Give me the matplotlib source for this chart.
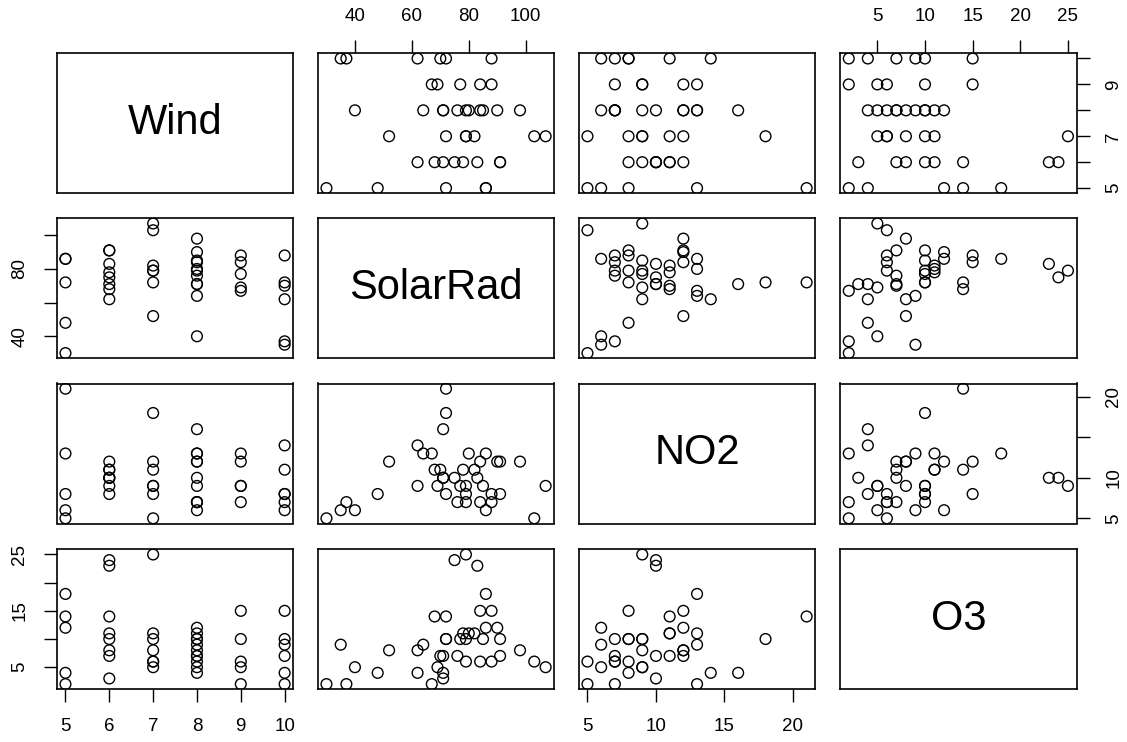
import matplotlib
matplotlib.use("Agg")
import matplotlib.pyplot as plt

plt.rcParams['font.family'] = ['Liberation Sans', 'DejaVu Sans']

# air pollution data (42 days)
wind = [8, 7, 7, 10, 6, 8, 9, 5, 7, 8, 6, 6, 7, 10, 10, 9, 8, 8, 9, 9, 10,
        9, 8, 5, 6, 8, 6, 8, 6, 10, 8, 7, 5, 6, 10, 8, 5, 5, 7, 7, 6, 8]
solar_rad = [98, 107, 103, 88, 91, 90, 84, 72, 82, 64, 71, 91, 72, 70, 72,
             77, 76, 71, 67, 69, 62, 88, 80, 30, 83, 84, 78, 79, 62, 37, 71,
             52, 48, 75, 35, 85, 86, 86, 79, 79, 68, 40]
no2 = [12, 9, 5, 8, 8, 12, 12, 21, 11, 13, 10, 12, 18, 11, 8, 9, 7, 16, 13,
       9, 14, 7, 13, 5, 10, 7, 11, 7, 9, 7, 10, 12, 8, 10, 6, 9, 6, 13, 9, 8,
       11, 6]
o3 = [8, 5, 6, 15, 10, 12, 15, 14, 11, 9, 3, 7, 10, 7, 10, 10, 7, 4, 2, 5, 4,
      6, 11, 2, 23, 6, 11, 10, 8, 2, 7, 8, 4, 24, 9, 10, 12, 18, 25, 6, 14, 5]

names = ["Wind", "SolarRad", "NO2", "O3"]
columns = [wind, solar_rad, no2, o3]
ticks = [[5, 6, 7, 8, 9, 10], [40, 60, 80, 100], [5, 10, 15, 20],
         [5, 10, 15, 20, 25]]
# labels shown on the horizontal axes (top / bottom)
x_labels = [["5", "6", "7", "8", "9", "10"], ["40", "60", "80", "100"],
            ["5", "10", "15", "20"], ["5", "10", "15", "20", "25"]]
# labels shown on the vertical axes (R drops overlapping ones)
y_labels = [["5", "", "7", "", "9", ""], ["40", "", "80", ""],
            ["5", "10", "", "20"], ["5", "", "15", "", "25"]]

W, H = 1127, 742
fig = plt.figure(figsize=(W / 100, H / 100), dpi=100)

col_left = [56.7, 317.7, 578.7, 840.0]
row_top = [53.3, 218.3, 383.5, 549.3]
pw, ph = 236.7, 140.0

n = len(columns)
for i in range(n):
    for j in range(n):
        ax = fig.add_axes([col_left[j] / W, 1 - (row_top[i] + ph) / H,
                           pw / W, ph / H])
        for s in ax.spines.values():
            s.set_linewidth(1.2)
        ax.tick_params(length=9.5, width=1.0, labelsize=13.5, pad=11,
                       top=False, bottom=False, left=False, right=False,
                       labeltop=False, labelbottom=False,
                       labelleft=False, labelright=False)
        if i == j:
            ax.set_xticks([])
            ax.set_yticks([])
            ax.text(0.5, 0.5, names[i], ha='center', va='center',
                    fontsize=30, transform=ax.transAxes)
            continue

        xmin, xmax = min(columns[j]), max(columns[j])
        ymin, ymax = min(columns[i]), max(columns[i])
        dx = (xmax - xmin) * 0.04
        dy = (ymax - ymin) * 0.04
        ax.scatter(columns[j], columns[i], s=60, facecolors='none',
                   edgecolors='black', linewidths=1.0)
        ax.set_xticks(ticks[j])
        ax.set_xticklabels(x_labels[j])
        ax.set_yticks(ticks[i])
        ax.set_yticklabels(y_labels[i], rotation=90, va='center')
        ax.set_xlim(xmin - dx, xmax + dx)
        ax.set_ylim(ymin - dy, ymax + dy)
        if i == 0 and j % 2 == 1:
            ax.tick_params(top=True, labeltop=True)
        if i == n - 1 and j % 2 == 0:
            ax.tick_params(bottom=True, labelbottom=True)
        if j == 0 and i % 2 == 1:
            ax.tick_params(left=True, labelleft=True)
        if j == n - 1 and i % 2 == 0:
            ax.tick_params(right=True, labelright=True)

fig.savefig("out.png", dpi=100)
